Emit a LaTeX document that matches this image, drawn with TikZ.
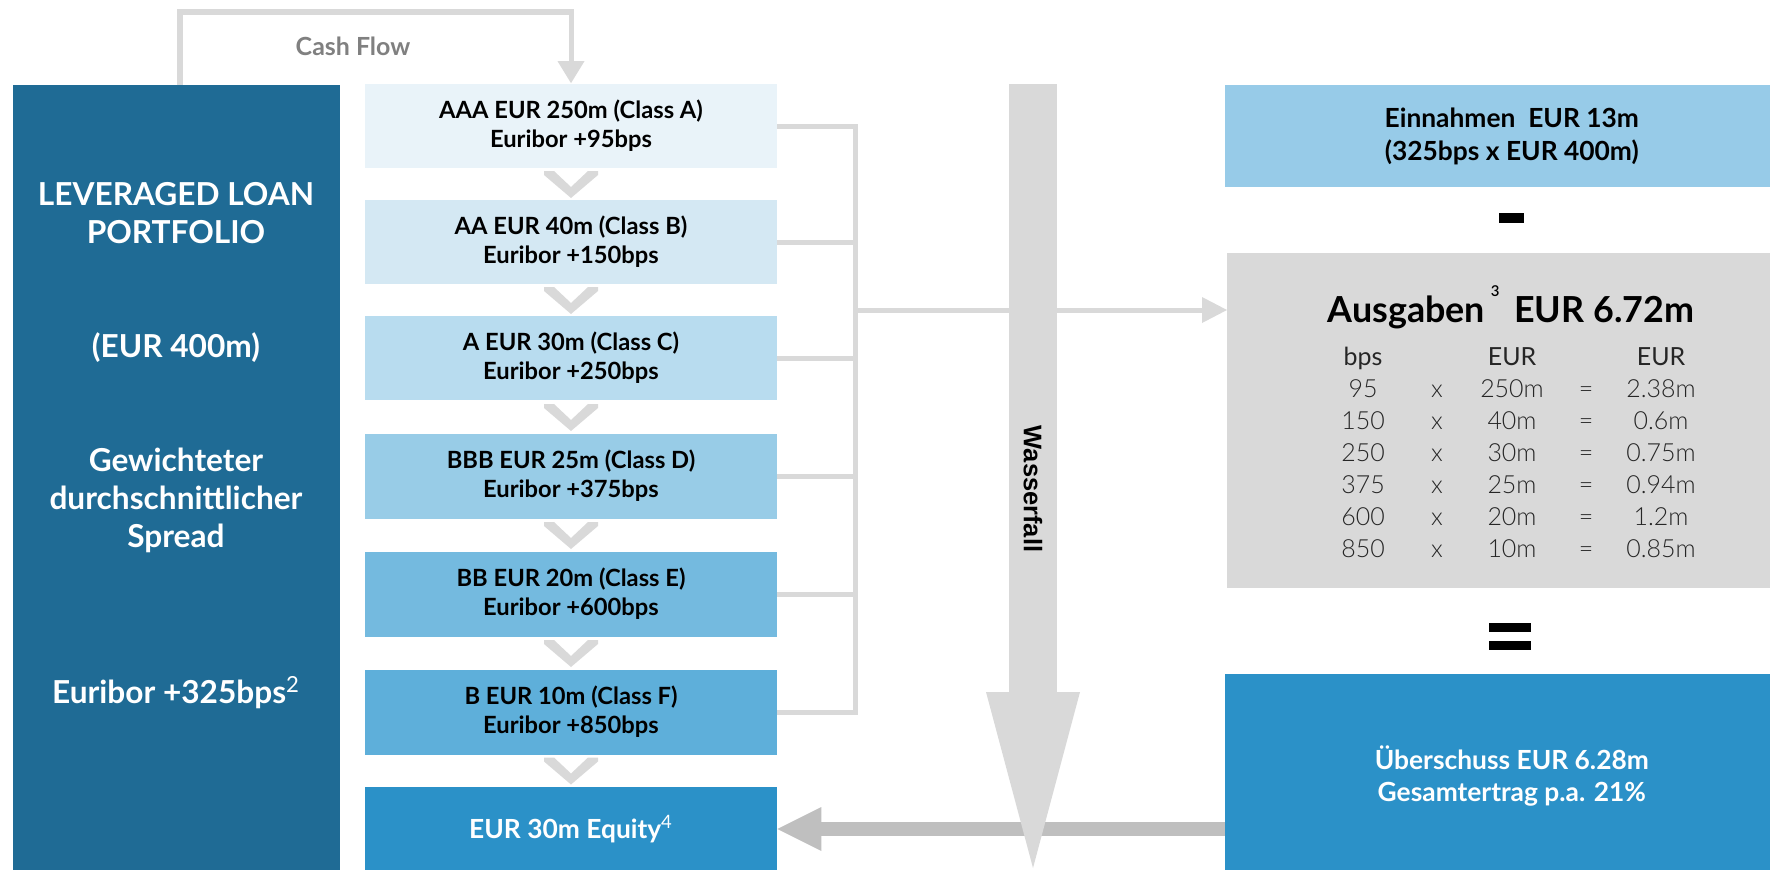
\documentclass[tikz,border=0pt]{standalone}
\usepackage{fontspec}
\setmainfont{Lato}
\newfontfamily\lightfont{Lato Light}
\newfontfamily\wffont{Liberation Sans}
\usetikzlibrary{arrows.meta,positioning,calc}
\definecolor{loanblue}{HTML}{1F6B95}
\definecolor{clsA}{HTML}{E9F3F9}
\definecolor{clsB}{HTML}{D4E8F3}
\definecolor{clsC}{HTML}{B8DCEF}
\definecolor{clsD}{HTML}{98CCE7}
\definecolor{clsE}{HTML}{74BADF}
\definecolor{clsF}{HTML}{5EAFDA}
\definecolor{inblue}{HTML}{97CBE8}
\definecolor{eqblue}{HTML}{2B91C8}
\definecolor{flowgrey}{HTML}{D9D9D9}
\definecolor{backgrey}{HTML}{BFBFBF}
\definecolor{labelgrey}{HTML}{808080}
\begin{document}
\begin{tikzpicture}[x=0.02cm,y=-0.02cm]
\tikzset{tranche/.style={minimum width=8.24cm,minimum height=1.7cm,inner sep=0pt,align=center,font=\fontsize{13.5}{16.5}\selectfont\bfseries},
 sidebox/.style={minimum width=11.46cm,inner sep=0pt,align=center,anchor=north west},
 loantext/.style={text=white,align=center,font=\fontsize{18}{21.6}\selectfont\bfseries},
 wire/.style={draw=flowgrey,line width=2.85pt},
 cell/.style={anchor=base,inner sep=0pt,text=black!85,font=\lightfont\fontsize{14.2}{16}\selectfont},
 bar/.style={fill=black,inner sep=0pt}}
\useasboundingbox (0,0) rectangle (1770,869);
% portfolio column
\node[fill=loanblue,minimum width=6.54cm,minimum height=16cm,anchor=north west,inner sep=0pt] (lp) at (13,85) {};
\node[loantext] (lpName) at (176,213) {LEVERAGED LOAN\\PORTFOLIO};
\node[loantext] (lpSize) at (176,348) {(EUR 400m)};
\node[loantext] (lpLbl) at (176,500) {Gewichteter\\durchschnittlicher\\Spread};
\node[loantext] (lpSpread) at (176,693) {Euribor +325bps\textsuperscript{\mdseries 2}};
% tranches
\foreach \n/\y/\c/\t in {tA/126/clsA/{AAA EUR 250m (Class A)\\Euribor +95bps},tB/242/clsB/{AA EUR 40m (Class B)\\Euribor +150bps},tC/358/clsC/{A EUR 30m (Class C)\\Euribor +250bps},tD/476/clsD/{BBB EUR 25m (Class D)\\Euribor +375bps},tE/594/clsE/{BB EUR 20m (Class E)\\Euribor +600bps},tF/712/clsF/{B EUR 10m (Class F)\\Euribor +850bps}}{\node[tranche,fill=\c] (\n) at (571,\y) {\t};}
\node[tranche,fill=eqblue,text=white,font=\fontsize{15}{16.5}\selectfont\bfseries] (eq) at (571,829) {EUR 30m Equity\textsuperscript{\mdseries 4}};
\foreach \a/\b in {tA/tB,tB/tC,tC/tD,tD/tE,tE/tF,tF/eq}{\path ($(\a.south)!0.5!(\b.north)$) coordinate (m);
\fill[flowgrey] ($(m)+(-27,-13)$) -- ++(10,0) -- ++(17,16) -- ++(17,-16) -- ++(10,0) -- ++(0,4) -- ++(-27,23) -- ++(-27,-23) -- cycle;}
% cash flow loop
\draw[wire,-{Triangle[width=0.54cm,length=0.44cm,line width=0pt]}] ($(lp.north west)+(167,0)$) -- ++(0,-73) -| (tA.north);
\node[text=labelgrey,font=\fontsize{14.2}{16}\selectfont\bfseries] (cf) at (353,46) {Cash Flow};
% right hand boxes
\node[sidebox,fill=inblue,minimum height=2.04cm,font=\fontsize{15}{18.7}\selectfont\bfseries] (inc) at (1225,85) {Einnahmen~ EUR 13m\\(325bps x EUR 400m)};
\node[sidebox,fill=flowgrey,minimum height=6.7cm] (ausg) at (1227,253) {};
\node[sidebox,fill=eqblue,minimum height=4.08cm,text=white,font=\fontsize{15}{18.2}\selectfont\bfseries] (surp) at (1225,674) {Überschuss EUR 6.28m\\Gesamtertrag p.a. 21\%};
\node[bar,minimum width=0.5cm,minimum height=0.2cm] (minus) at (1511,218) {};
\node[bar,minimum width=0.84cm,minimum height=0.18cm] (eqTop) at (1510,627) {};
\node[bar,minimum width=0.84cm,minimum height=0.18cm] (eqBot) at (1510,645) {};
\node[anchor=base,inner sep=0pt,font=\fontsize{20.4}{24}\selectfont\bfseries] (ausgT) at (1511,322) {Ausgaben\,\raisebox{14.8pt}{\lightfont\fontsize{8.5}{9}\selectfont 3}\, EUR 6.72m};
\foreach \c/\x/\t in {1/1363/bps,2/1512/EUR,3/1661/EUR}{\node[cell,font=\fontsize{14.2}{16}\selectfont] (h\c) at (\x,365) {\t};}
\foreach \r/\b/\e/\s in {1/95/250m/2.38m,2/150/40m/0.6m,3/250/30m/0.75m,4/375/25m/0.94m,5/600/20m/1.2m,6/850/10m/0.85m}{
\node[cell] (b\r) at (1363,{365+32*\r}) {\b};
\node[cell] (x\r) at (1437,{365+32*\r}) {x};
\node[cell] (e\r) at (1512,{365+32*\r}) {\e};
\node[cell] (q\r) at (1586,{365+32*\r}) {=};
\node[cell] (s\r) at (1661,{365+32*\r}) {\s};}
% payments gathered into one line
\coordinate (bus) at (855,310);
\foreach \n in {tA,tB,tC,tD,tE,tF}{\draw[wire] (\n.east) -- (\n.east -| bus);}
\draw[wire,line cap=rect] (tA.east -| bus) -- (tF.east -| bus);
\draw[wire,-{Triangle[width=0.52cm,length=0.5cm,line width=0pt]}] (bus) -- (bus -| ausg.west);
% surplus back to equity, waterfall on top
\draw[draw=backgrey,line width=8.5pt,-{Triangle[width=0.88cm,length=0.88cm,line width=0pt]}] (surp.west |- eq.east) -- (eq.east);
\coordinate (wfTop) at (1033,84);
\coordinate (wfTip) at (1033,868);
\draw[draw=flowgrey,line width=27.3pt,-{Triangle[width=1.88cm,length=3.52cm,line width=0pt]}] (wfTop) -- (wfTip);
\node[rotate=-90,font=\wffont\fontsize{14.5}{16}\selectfont\bfseries] (wf) at (1033,489) {Wasserfall};
\end{tikzpicture}
\end{document}
